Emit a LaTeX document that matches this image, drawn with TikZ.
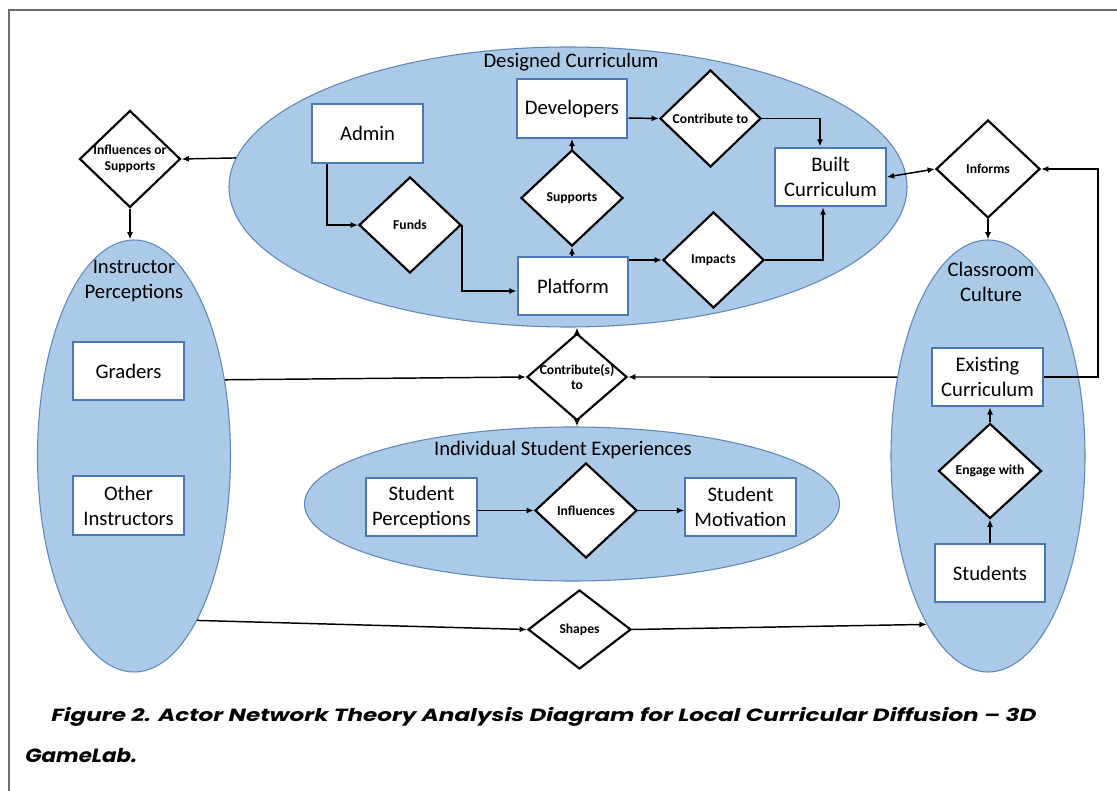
\documentclass[tikz,border=0pt]{standalone}
\usepackage{fontspec}
\setmainfont{Carlito}
\newfontfamily\capfont{Poppins}
\usetikzlibrary{shapes.geometric,arrows.meta,calc}

\definecolor{ellfill}{RGB}{171,202,231}
\definecolor{elldraw}{RGB}{96,136,184}
\definecolor{boxdraw}{RGB}{74,120,180}
\definecolor{framegray}{RGB}{110,110,110}

\begin{document}
\begin{tikzpicture}[
  x=0.75pt, y=-0.75pt,
  group/.style={ellipse, fill=ellfill, draw=elldraw, line width=0.8pt, inner sep=0pt},
  actor/.style={rectangle, fill=white, draw=boxdraw, line width=1.5pt, inner sep=0pt,
    minimum width=83pt, minimum height=44pt, align=center,
    font=\fontsize{15.5}{18.75}\selectfont},
  dia/.style={diamond, fill=white, draw=black, line width=1.6pt, inner sep=0pt},
  dlab/.style={align=center, font=\fontsize{10.2}{11.8}\selectfont\bfseries},
  title/.style={align=center, font=\fontsize{15.5}{18.75}\selectfont},
  arr/.style={draw=black, line width=1.1pt, -{Latex[length=5.5pt,width=4.5pt]}},
  darr/.style={draw=black, line width=1.1pt, {Latex[length=5.5pt,width=4.5pt]}-{Latex[length=5.5pt,width=4.5pt]}}
]
\useasboundingbox (0,0) rectangle (1117,791);
\fill[white] (0,0) rectangle (1117,791);
\draw[framegray, line width=1.1pt] (9,791) -- (9,10) -- (1117,10);

% groups
\node[group, minimum width=508.5pt, minimum height=210pt] (dc) at (568,187) {};
\node[group, minimum width=144.75pt, minimum height=324pt] (instr) at (134,456) {};
\node[group, minimum width=145.5pt, minimum height=324pt] (cc) at (988,456) {};
\node[group, minimum width=401.25pt, minimum height=115.5pt] (ise) at (572,504) {};

\node[title] (dctitle) at (571,62) {Designed Curriculum};
\node[title] (isetitle) at (563,450) {Individual Student Experiences};
\node[title] (instrtitle) at (134,281) {Instructor\\Perceptions};
\node[title] (cctitle) at (991,282) {Classroom\\Culture};

% actors
\node[actor] (admin) at (367.5,133.5) {Admin};
\node[actor] (dev) at (572,108.5) {Developers};
\node[actor] (built) at (830.5,177) {Built\\Curriculum};
\node[actor] (plat) at (573,286) {Platform};
\node[actor] (grd) at (128.5,371) {Graders};
\node[actor] (oth) at (128.5,505.5) {Other\\Instructors};
\node[actor] (sp) at (421.5,507) {Student\\Perceptions};
\node[actor] (sm) at (740.5,507) {Student\\Motivation};
\node[actor] (exist) at (987.5,377) {Existing\\Curriculum};
\node[actor] (stu) at (990,573) {Students};

% relations
\node[dia, minimum width=75.75pt, minimum height=72.75pt,
  label={[dlab]center:Influences or\\Supports}] (isup) at (130,159) {};
\node[dia, minimum width=76.5pt, minimum height=72pt,
  label={[dlab]center:Funds}] (funds) at (410,225) {};
\node[dia, minimum width=76.5pt, minimum height=72pt,
  label={[dlab]center:Supports}] (sup) at (572,198) {};
\node[dia, minimum width=75.75pt, minimum height=72.75pt,
  label={[dlab]center:Contribute to}] (ct) at (710.5,118.5) {};
\node[dia, minimum width=75.75pt, minimum height=72pt,
  label={[dlab]center:Impacts}] (imp) at (713.5,260) {};
\node[dia, minimum width=78pt, minimum height=73.5pt,
  label={[dlab]center:Informs}] (inf) at (988,169) {};
\node[dia, minimum width=75pt, minimum height=65.25pt,
  label={[dlab]center:Contribute(s)\\to}] (cs) at (577,377) {};
\node[dia, minimum width=76.5pt, minimum height=71.25pt,
  label={[dlab]center:Influences}] (infl) at (586,510.5) {};
\node[dia, minimum width=77.25pt, minimum height=71.25pt,
  label={[dlab]center:Engage with}] (eng) at (990,471) {};
\node[dia, minimum width=77.25pt, minimum height=59.25pt,
  label={[dlab]center:Shapes}] (shp) at (579.5,629.5) {};

% connectors
\draw[arr] (dc.175) -- (isup.east);
\draw[arr] (isup.south) -- (isup.south |- instr.north);
\draw[arr] ($(admin.south west)+(16,0)$) |- (funds.west);
\draw[arr] (funds.east) |- ($(plat.west)+(0,5)$);
\draw[arr] ($(dev.east)+(0,9.5)$) -- (ct.west);
\draw[arr] (ct.east) -| ($(built.north)+(-10.5,0)$);
\draw[arr] (plat.east |- imp.west) -- (imp.west);
\draw[arr] (imp.east) -| ($(built.south)+(-7.5,0)$);
\draw[arr] (sup.south |- plat.north) -- (sup.south);
\draw[arr] (sup.north) -- (sup.north |- dev.south);
\draw[darr] (built.east) -- (inf.west);
\draw[arr] (inf.south) -- (inf.south |- cc.north);
\draw[arr] (exist.east) -| ($(inf.east)+(57,0)$) -- (inf.east);
\draw[arr] (cc.139) -- (cs.east);
\draw[arr] (instr.40) -- (cs.west);
\draw[arr] (cs.north) -- (cs.north |- dc.south);
\draw[arr] (cs.south) -- (cs.south |- ise.north);
\draw[arr] (sp.east |- infl.west) -- (infl.west);
\draw[arr] (infl.east) -- (infl.east -| sm.west);
\draw[arr] (stu.north) -- (stu.north |- eng.south);
\draw[arr] (eng.north) -- (eng.north |- exist.south);
\draw[arr] (instr.-69) -- (shp.west);
\draw[arr] (shp.east) -- (cc.-110);

% caption
\node[anchor=base west, inner sep=0pt] (cap1) at (51,721)
  {\resizebox{738.75pt}{10.6pt}{\capfont\bfseries\itshape Figure 2. Actor Network Theory Analysis Diagram for Local Curricular Diffusion – 3D}};
\node[anchor=base west, inner sep=0pt] (cap2) at (25,762)
  {\resizebox{84pt}{10.6pt}{\capfont\bfseries\itshape GameLab.}};
\end{tikzpicture}
\end{document}
